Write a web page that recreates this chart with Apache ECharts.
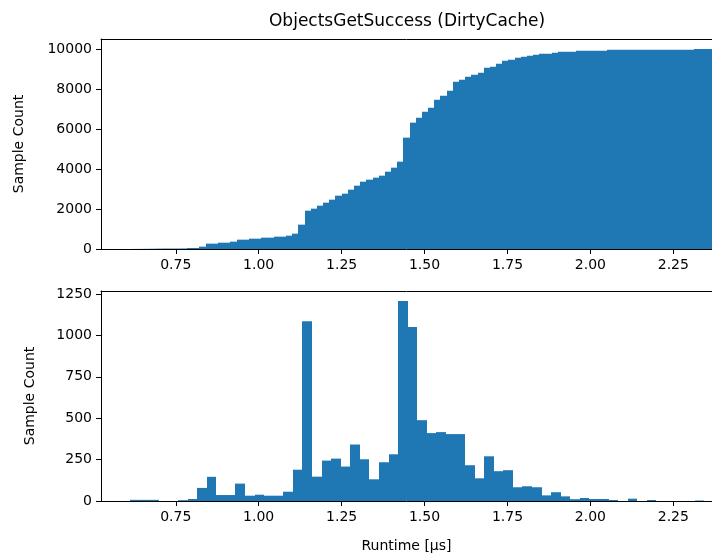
<!DOCTYPE html>
<html>
<head>
<meta charset="utf-8">
<title>ObjectsGetSuccess (DirtyCache)</title>
<script src="https://cdn.jsdelivr.net/npm/echarts@6/dist/echarts.min.js"></script>
<style>
    html, body { margin: 0; padding: 0; background: #fff; overflow: hidden; }
    #main { width: 712px; height: 554px; }
</style>
</head>
<body>
<div id="main"></div>
<script>
    // cumulative histogram (top), bins of equal width starting at cdfStart
    var cdfStart = 0.6166, cdfWidth = 0.01863;
    var cdfCounts = [
        3, 6, 10, 14, 20, 24, 24, 25, 28, 50,
        50, 117, 267, 267, 317, 317, 367, 467, 467, 517,
        517, 567, 567, 617, 617, 667, 767, 1217, 1917, 2017,
        2167, 2317, 2467, 2667, 2767, 2967, 3167, 3367, 3467, 3567,
        3667, 3867, 4067, 4367, 5567, 6317, 6567, 6867, 7067, 7467,
        7667, 7917, 8367, 8467, 8617, 8717, 8817, 9067, 9117, 9267,
        9417, 9467, 9567, 9617, 9667, 9717, 9767, 9767, 9817, 9867,
        9867, 9867, 9917, 9917, 9917, 9917, 9917, 9967, 9967, 9967,
        9967, 9967, 9967, 9967, 9967, 9967, 9967, 9967, 9967, 9967,
        9967, 10000, 10000, 10000
    ];

    // plain histogram (bottom)
    var histStart = 0.6124, histWidth = 0.02885;
    var histCounts = [
        7, 7, 7, 0, 0, 5, 12, 79, 146, 36,
        36, 105, 32, 38, 32, 32, 56, 189, 1085, 147,
        244, 256, 208, 341, 252, 131, 234, 282, 1208, 1051,
        488, 410, 416, 404, 404, 216, 137, 270, 180, 186,
        83, 89, 83, 34, 53, 28, 11, 18, 12, 12,
        6, 0, 14, 0, 6, 0, 0, 0, 0, 3
    ];

    var xTicks = [0.75, 1.00, 1.25, 1.50, 1.75, 2.00, 2.25];
    var cdfTicks = [0, 2000, 4000, 6000, 8000, 10000];
    var histTicks = [0, 250, 500, 750, 1000, 1250];

    var barColor = '#1f77b4';
    var font = 'DejaVu Sans';
    var xMin = 0.5246, xMax = 2.3666;

    function toBins(start, width, counts) {
        var out = [];
        for (var i = 0; i < counts.length; i++) {
            out.push([start + i * width, start + (i + 1) * width, counts[i]]);
        }
        return out;
    }

    // snap bin edges to whole pixels so neighbouring bars meet without seams
    function renderBin(params, api) {
        var p0 = api.coord([api.value(0), api.value(2)]);
        var p1 = api.coord([api.value(1), 0]);
        var x0 = Math.round(p0[0]), x1 = Math.round(p1[0]);
        return {
            type: 'rect',
            shape: {x: x0, y: p0[1], width: x1 - x0, height: p1[1] - p0[1]},
            style: {fill: barColor, stroke: null}
        };
    }

    function xAxisOpt(gridIndex, name) {
        return {
            type: 'value',
            gridIndex: gridIndex,
            min: xMin,
            max: xMax,
            z: 5,
            name: name,
            nameLocation: 'middle',
            nameGap: 38,
            nameTextStyle: {color: '#000', fontSize: 14, fontFamily: font},
            splitLine: {show: false},
            axisLine: {lineStyle: {color: '#000', width: 1}},
            axisTick: {length: 5, lineStyle: {color: '#000'}, customValues: xTicks},
            axisLabel: {
                color: '#000', fontSize: 14, fontFamily: font, margin: 9,
                customValues: xTicks,
                formatter: function (v) { return v.toFixed(2); }
            }
        };
    }

    // top spine only
    function topSpine(gridIndex) {
        return {
            type: 'value',
            gridIndex: gridIndex,
            position: 'top',
            min: xMin,
            max: xMax,
            z: 5,
            splitLine: {show: false},
            axisLine: {show: true, lineStyle: {color: '#000', width: 1}},
            axisTick: {show: false},
            axisLabel: {show: false}
        };
    }

    function yAxisOpt(gridIndex, max, ticks, gap) {
        return {
            type: 'value',
            gridIndex: gridIndex,
            min: 0,
            max: max,
            z: 5,
            name: 'Sample Count',
            nameLocation: 'middle',
            nameRotate: 90,
            nameGap: gap,
            nameTextStyle: {color: '#000', fontSize: 14, fontFamily: font},
            splitLine: {show: false},
            axisLine: {show: true, lineStyle: {color: '#000', width: 1}},
            axisTick: {show: true, length: 5, lineStyle: {color: '#000'}, customValues: ticks},
            axisLabel: {
                color: '#000', fontSize: 14, fontFamily: font, margin: 9,
                customValues: ticks,
                formatter: function (v) { return String(v); }
            }
        };
    }

    var chart = echarts.init(document.getElementById('main'));
    chart.setOption({
        animation: false,
        backgroundColor: '#fff',
        graphic: [{
            type: 'text',
            x: 407,
            y: 22,
            style: {
                text: 'ObjectsGetSuccess (DirtyCache)',
                fill: '#000',
                font: '17px "DejaVu Sans"',
                align: 'center',
                verticalAlign: 'middle'
            }
        }],
        grid: [
            {left: 101, top: 39, width: 613, height: 210},
            {left: 101, top: 291, width: 613, height: 210}
        ],
        xAxis: [xAxisOpt(0, ''), xAxisOpt(1, 'Runtime [µs]'), topSpine(0), topSpine(1)],
        yAxis: [yAxisOpt(0, 10500, cdfTicks, 75), yAxisOpt(1, 1268, histTicks, 64)],
        series: [
            {
                type: 'custom',
                xAxisIndex: 0,
                yAxisIndex: 0,
                clip: true,
                renderItem: renderBin,
                data: toBins(cdfStart, cdfWidth, cdfCounts)
            },
            {
                type: 'custom',
                xAxisIndex: 1,
                yAxisIndex: 1,
                clip: true,
                renderItem: renderBin,
                data: toBins(histStart, histWidth, histCounts)
            }
        ]
    });
</script>
</body>
</html>
